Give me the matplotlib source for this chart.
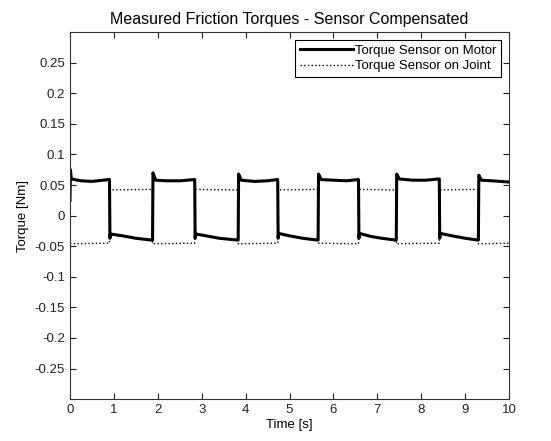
import matplotlib.pyplot as plt

plt.rcParams['font.family'] = ['Liberation Sans', 'DejaVu Sans']

# torque sensor on motor (s, Nm)
motor_t = [0.00, 0.01, 0.03, 0.25, 0.50, 0.75, 0.89,
           0.90, 0.91, 0.92, 1.20, 1.50, 1.87,
           1.88, 1.89, 1.95, 2.20, 2.50, 2.83,
           2.84, 2.85, 2.86, 3.10, 3.40, 3.82,
           3.83, 3.84, 3.90, 4.20, 4.50, 4.72,
           4.73, 4.74, 4.75, 5.00, 5.30, 5.64,
           5.65, 5.66, 5.72, 6.00, 6.30, 6.56,
           6.57, 6.58, 6.59, 6.85, 7.10, 7.42,
           7.43, 7.44, 7.50, 7.80, 8.10, 8.40,
           8.41, 8.42, 8.43, 8.70, 9.00, 9.29,
           9.30, 9.31, 9.37, 9.60, 9.80, 10.0]
motor_tq = [0.025, 0.075, 0.060, 0.057, 0.056, 0.058, 0.059,
            0.059, -0.037, -0.030, -0.033, -0.037, -0.040,
            -0.040, 0.070, 0.058, 0.057, 0.057, 0.059,
            0.059, -0.037, -0.030, -0.033, -0.037, -0.040,
            -0.040, 0.068, 0.058, 0.056, 0.057, 0.059,
            0.059, -0.037, -0.029, -0.033, -0.037, -0.040,
            -0.040, 0.068, 0.059, 0.058, 0.057, 0.059,
            0.059, -0.037, -0.029, -0.034, -0.037, -0.040,
            -0.040, 0.068, 0.060, 0.058, 0.058, 0.060,
            0.060, -0.037, -0.029, -0.033, -0.037, -0.040,
            -0.040, 0.066, 0.058, 0.057, 0.056, 0.055]

# torque sensor on joint
joint_t = [0.00, 0.90, 0.90, 1.88, 1.88, 2.84, 2.84, 3.83, 3.83, 4.73,
           4.73, 5.65, 5.65, 6.57, 6.57, 7.43, 7.43, 8.41, 8.41, 9.30,
           9.30, 10.0]
joint_tq = [-0.046, -0.045, 0.042, 0.043, -0.046, -0.045, 0.043, 0.042,
            -0.046, -0.045, 0.042, 0.043, -0.045, -0.046, 0.043, 0.042,
            -0.046, -0.045, 0.042, 0.043, -0.046, -0.045]

y_ticks = [-0.25, -0.2, -0.15, -0.1, -0.05, 0, 0.05, 0.1, 0.15, 0.2, 0.25]
y_labels = ['-0.25', '-0.2', '-0.15', '-0.1', '-0.05', '0',
            '0.05', '0.1', '0.15', '0.2', '0.25']

fig = plt.figure(figsize=(5.51, 4.41), dpi=100)
ax = fig.add_axes([0.127, 0.095, 0.797, 0.832])

ax.plot(motor_t, motor_tq, color='black', lw=2.2, label='Torque Sensor on Motor')
ax.plot(joint_t, joint_tq, color='black', lw=1.0, ls=':', label='Torque Sensor on Joint')

ax.set_xlim(0, 10)
ax.set_ylim(-0.3, 0.3)
ax.set_xticks(range(11))
ax.set_yticks(y_ticks)
ax.set_yticklabels(y_labels)
ax.tick_params(direction='in', top=True, right=True, length=4, labelsize=9.5,
               colors='#222222')
for sp in ax.spines.values():
    sp.set_color('#333333')

ax.set_title('Measured Friction Torques - Sensor Compensated', fontsize=11.5, pad=6)
ax.set_xlabel('Time [s]', fontsize=9.5, labelpad=2)
ax.set_ylabel('Torque [Nm]', fontsize=9.5)

leg = ax.legend(loc='upper right', fontsize=9.5, fancybox=False, framealpha=1,
                edgecolor='black', handlelength=4.0, borderaxespad=0.6,
                handletextpad=0.2, labelspacing=0.25, borderpad=0.35)
leg.get_frame().set_linewidth(0.8)

fig.savefig('out.png', dpi=100)
